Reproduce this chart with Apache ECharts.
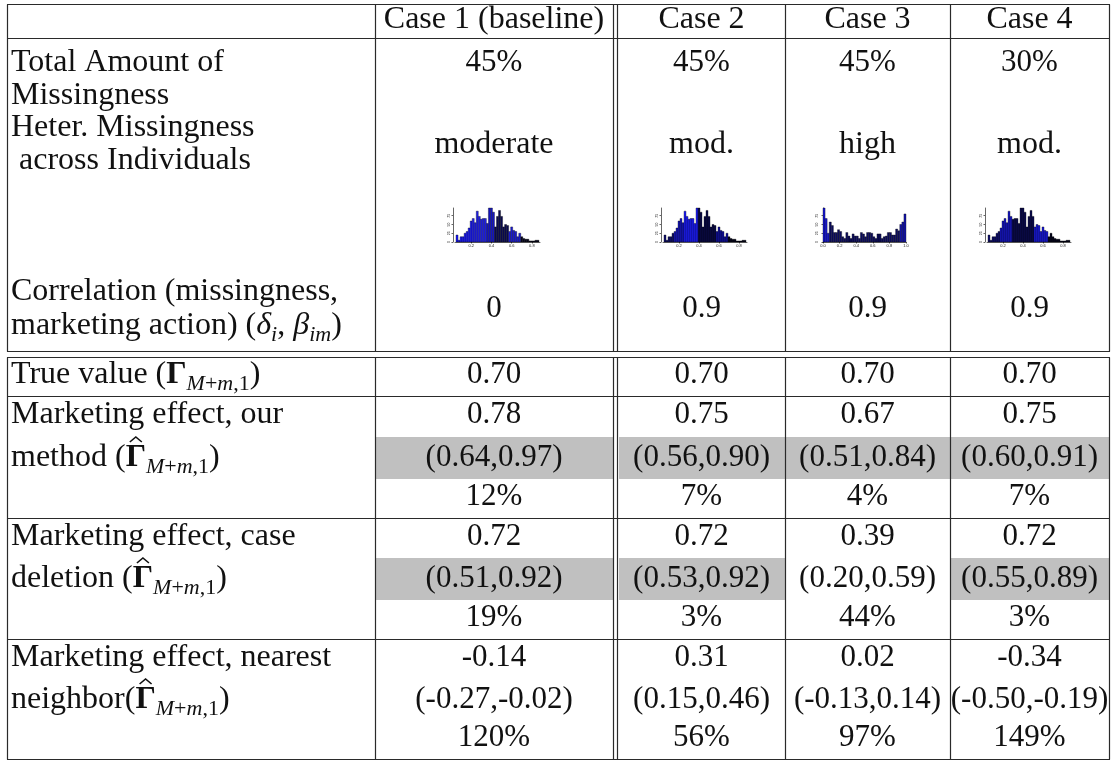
<!DOCTYPE html>
<html>
<head>
<meta charset="utf-8">
<script src="https://cdn.jsdelivr.net/npm/echarts@6/dist/echarts.min.js"></script>
<style>
  html, body { margin: 0; padding: 0; background: #ffffff; }
  #main { width: 1117px; height: 761px; }
</style>
</head>
<body>
<div id="main"></div>
<script>
// ---------- table content ----------
const caseNames = ['Case 1 (baseline)', 'Case 2', 'Case 3', 'Case 4'];
const totalMissing = ['45%', '45%', '45%', '30%'];
const heterMissing = ['moderate', 'mod.', 'high', 'mod.'];
const corrMissAction = ['0', '0.9', '0.9', '0.9'];
const trueGamma = [0.70, 0.70, 0.70, 0.70];
const ourEstimate = [0.78, 0.75, 0.67, 0.75];
const ourInterval = [[0.64, 0.97], [0.56, 0.90], [0.51, 0.84], [0.60, 0.91]];
const ourError = ['12%', '7%', '4%', '7%'];
const delEstimate = [0.72, 0.72, 0.39, 0.72];
const delInterval = [[0.51, 0.92], [0.53, 0.92], [0.20, 0.59], [0.55, 0.89]];
const delError = ['19%', '3%', '44%', '3%'];
const nnEstimate = [-0.14, 0.31, 0.02, -0.34];
const nnInterval = [[-0.27, -0.02], [0.15, 0.46], [-0.13, 0.14], [-0.50, -0.19]];
const nnError = ['120%', '56%', '97%', '149%'];

// row labels (left column), one entry per printed line
const labelTotal = ['Total Amount of', 'Missingness'];
const labelHeter = ['Heter. Missingness', ' across Individuals'];
const labelCorr = ['Correlation (missingness,', 'marketing action) ({gi|\u03b4}{si|i}, {gi|\u03b2}{si|im})'];
const gammaSub = '{si|M}{sr|+}{si|m}{sr|,1}';
const labelTrue = ['True value ({gb|\u0393}' + gammaSub + ')'];
const labelOur = ['Marketing effect, our', 'method ({gb|\u0393}' + gammaSub + ')'];
const labelDel = ['Marketing effect, case', 'deletion ({gb|\u0393}' + gammaSub + ')'];
const labelNN = ['Marketing effect, nearest', 'neighbor({gb|\u0393}' + gammaSub + ')'];
// text in front of the hatted Gamma on the estimator rows
const hatPrefix = { our: 'method (', del: 'deletion (', nn: 'neighbor(' };

// share of missing observations per individual: histogram counts
const moderateBinStart = 0.05, moderateBinWidth = 0.02;
const moderateCounts = [20, 5, 15, 15, 25, 30, 40, 60, 67, 55, 88, 73, 65, 67, 67, 53, 97, 97, 85, 43,
                        73, 90, 73, 43, 50, 47, 30, 43, 33, 30, 15, 25, 15, 10, 8, 8, 3, 3, 3, 5, 5];
const highBinStart = 0.0, highBinWidth = 0.025;
const highCounts = [97, 67, 25, 57, 47, 27, 27, 35, 30, 15, 10, 27, 17, 10, 23, 17, 17, 10, 27, 23,
                    15, 27, 27, 25, 15, 10, 23, 23, 10, 15, 17, 27, 27, 20, 20, 37, 32, 50, 57, 80];
const histOfCase = ['moderate', 'moderate', 'high', 'moderate'];
const histXTicks = {
  moderate: [0.2, 0.4, 0.6, 0.8],
  high: [0.0, 0.2, 0.4, 0.6, 0.8, 1.0]
};
const histYTicks = [0, 25, 50, 75];

// ---------- layout & style ----------
const FONT = '"Liberation Serif", "Times New Roman", serif';
const FS = 32;      // words
const FSN = 31;     // numeric cells
const INK = '#111111';
const RULE = '#2a2a2a';
const SHADE = '#c0c0c0';

const colSpan = [[375, 613], [618, 785], [785, 950], [950, 1109]];
const labelX = 11;
const tableLeft = 7, tableRight = 1109;
const hRuleY = [4.5, 38.5, 351.5, 357.5, 396.5, 518.5, 639.5, 759.5];
const vRuleX = [7.5, 375.5, 613.5, 617.5, 785.5, 950.5, 1109.5];
const blockA = [4.5, 351.5], blockB = [357.5, 759.5];

const rowY = {
  header: 20,
  total: [63, 96],
  heter: [128, 161], heterValue: 145,
  corr: [292, 326], corrValue: 309,
  trueV: 375,
  our: [415, 458, 497],
  del: [537, 579, 618],
  nn: [658, 700, 738]
};
const shadeBand = { our: [437, 479], del: [558, 600] };

const histBox = [
  { left: 455, width: 85, min: 0.04, max: 0.88 },
  { left: 663, width: 84, min: 0.04, max: 0.88 },
  { left: 823, width: 83, min: 0.0, max: 1.0 },
  { left: 987, width: 84, min: 0.04, max: 0.88 }
];
const histTop = 208, histHeight = 34;

// fill colour of histogram bars, by bin position (blue to near black)
const histShade = [
  [[0.0, '#1818ff'], [0.22, '#1f1ff0'], [0.36, '#1414c8'], [0.44, '#0a0a50'], [0.58, '#1a1ad8'], [0.70, '#05051c']],
  [[0.0, '#101070'], [0.16, '#1818c0'], [0.26, '#1e1eff'], [0.40, '#0a0a48'], [0.58, '#1010a0'], [0.70, '#04041a']],
  [[0.0, '#1616d8'], [0.08, '#0c0c60'], [0.92, '#1414b0']],
  [[0.0, '#101070'], [0.18, '#1818c8'], [0.30, '#0c0c50'], [0.52, '#1a1ae0'], [0.66, '#05051c']]
];

// ---------- build table cells ----------
const richMath = {
  gi: { fontFamily: FONT, fontSize: FS, fontStyle: 'italic', fill: INK, lineHeight: 40 },
  gb: { fontFamily: FONT, fontSize: FS, fontWeight: 'bold', fill: INK, lineHeight: 40 },
  si: { fontFamily: FONT, fontSize: 22, fontStyle: 'italic', fill: INK, lineHeight: 22, verticalAlign: 'bottom' },
  sr: { fontFamily: FONT, fontSize: 22, fill: INK, lineHeight: 22, verticalAlign: 'bottom' }
};

const measureCtx = document.createElement('canvas').getContext('2d');
function textWidth(str, weight) {
  measureCtx.font = (weight || 'normal') + ' ' + FS + 'px ' + FONT;
  return measureCtx.measureText(str).width;
}

const fmt2 = v => v.toFixed(2);
const fmtCI = ci => '(' + fmt2(ci[0]) + ',' + fmt2(ci[1]) + ')';
const colCenter = c => (colSpan[c][0] + colSpan[c][1]) / 2;

const cells = [];
function addLabel(lines, ys, hatKey) {
  lines.forEach((t, k) => {
    const cell = { x: labelX, y: ys[k], text: t, align: 'left', size: FS };
    if (hatKey && k === lines.length - 1) {
      cell.hatX = labelX + textWidth(hatPrefix[hatKey]) + textWidth('\u0393', 'bold') / 2;
    }
    cells.push(cell);
  });
}
function addValue(c, y, text, shade, size) {
  cells.push({
    x: colCenter(c), y: y, text: text, align: 'center', size: size || FSN,
    shade: shade ? [colSpan[c][0] + 1, shade[0], colSpan[c][1], shade[1]] : null
  });
}

addLabel(labelTotal, rowY.total);
addLabel(labelHeter, rowY.heter);
addLabel(labelCorr, rowY.corr);
addLabel(labelTrue, [rowY.trueV]);
addLabel(labelOur, rowY.our, 'our');
addLabel(labelDel, rowY.del, 'del');
addLabel(labelNN, rowY.nn, 'nn');

for (let c = 0; c < 4; c++) {
  const covers = ci => ci[0] <= trueGamma[c] && trueGamma[c] <= ci[1];
  addValue(c, rowY.header, caseNames[c], null, FS);
  addValue(c, rowY.total[0], totalMissing[c]);
  addValue(c, rowY.heterValue, heterMissing[c], null, FS);
  addValue(c, rowY.corrValue, corrMissAction[c]);
  addValue(c, rowY.trueV, fmt2(trueGamma[c]));
  addValue(c, rowY.our[0], fmt2(ourEstimate[c]));
  addValue(c, rowY.our[1], fmtCI(ourInterval[c]), covers(ourInterval[c]) ? shadeBand.our : null);
  addValue(c, rowY.our[2], ourError[c]);
  addValue(c, rowY.del[0], fmt2(delEstimate[c]));
  addValue(c, rowY.del[1], fmtCI(delInterval[c]), covers(delInterval[c]) ? shadeBand.del : null);
  addValue(c, rowY.del[2], delError[c]);
  addValue(c, rowY.nn[0], fmt2(nnEstimate[c]));
  addValue(c, rowY.nn[1], fmtCI(nnInterval[c]));
  addValue(c, rowY.nn[2], nnError[c]);
}

// table rules as segments [x1, y1, x2, y2]
const rules = [];
hRuleY.forEach(y => rules.push([tableLeft, y, tableRight + 1, y]));
vRuleX.forEach(x => {
  rules.push([x, blockA[0], x, blockA[1]]);
  rules.push([x, blockB[0], x, blockB[1]]);
});

// ---------- chart ----------
const chart = echarts.init(document.getElementById('main'), null, { renderer: 'canvas' });

const grids = [{ left: 0, top: 0, right: 0, bottom: 0 }];
const xAxes = [{ gridIndex: 0, type: 'value', min: 0, max: 1117, show: false }];
const yAxes = [{ gridIndex: 0, type: 'value', min: 0, max: 761, inverse: true, show: false }];
const series = [];

// shaded interval cells (interval covers the true value)
series.push({
  type: 'custom', xAxisIndex: 0, yAxisIndex: 0, silent: true, clip: false,
  data: cells.map((c, i) => [i]).filter(d => cells[d[0]].shade),
  renderItem: (params, api) => {
    const s = cells[api.value(0)].shade;
    const p0 = api.coord([s[0], s[1]]), p1 = api.coord([s[2], s[3]]);
    return { type: 'rect', shape: { x: p0[0], y: p0[1], width: p1[0] - p0[0], height: p1[1] - p0[1] }, style: { fill: SHADE } };
  },
  z: 1
});

// rules
series.push({
  type: 'custom', xAxisIndex: 0, yAxisIndex: 0, silent: true, clip: false,
  data: rules,
  renderItem: (params, api) => {
    const a = api.coord([api.value(0), api.value(1)]), b = api.coord([api.value(2), api.value(3)]);
    return { type: 'line', shape: { x1: a[0], y1: a[1], x2: b[0], y2: b[1] }, style: { stroke: RULE, lineWidth: 1.2 } };
  },
  z: 2
});

// cell texts (with the hat accent over Gamma where needed)
series.push({
  type: 'custom', xAxisIndex: 0, yAxisIndex: 0, silent: true, clip: false,
  data: cells.map((c, i) => [i]),
  renderItem: (params, api) => {
    const cell = cells[api.value(0)];
    const p = api.coord([cell.x, cell.y]);
    const children = [{
      type: 'text',
      x: p[0], y: p[1],
      style: {
        text: cell.text,
        fontFamily: FONT, fontSize: cell.size, fill: INK, lineHeight: 40,
        align: cell.align, verticalAlign: 'middle',
        rich: richMath
      }
    }];
    if (cell.hatX !== undefined) {
      const h = api.coord([cell.hatX, cell.y]);
      children.push({
        type: 'polyline',
        shape: { points: [[h[0] - 6, h[1] - 16], [h[0], h[1] - 21], [h[0] + 6, h[1] - 16]] },
        style: { stroke: INK, lineWidth: 1.6, fill: null }
      });
    }
    return { type: 'group', children: children };
  },
  z: 3
});

// histograms
for (let c = 0; c < 4; c++) {
  const g = histBox[c];
  const kind = histOfCase[c];
  const counts = kind === 'high' ? highCounts : moderateCounts;
  const start = kind === 'high' ? highBinStart : moderateBinStart;
  const width = kind === 'high' ? highBinWidth : moderateBinWidth;
  const gi = grids.length;
  grids.push({ left: g.left, top: histTop, width: g.width, height: histHeight });
  xAxes.push({
    gridIndex: gi, type: 'value', min: g.min, max: g.max,
    axisLine: { show: true, onZero: false, lineStyle: { color: '#000', width: 0.6 } },
    axisTick: { show: true, length: 1.5, customValues: histXTicks[kind], lineStyle: { color: '#000', width: 0.6 } },
    axisLabel: { fontSize: 4, color: '#222', margin: 2, customValues: histXTicks[kind], formatter: v => v.toFixed(1) },
    splitLine: { show: false }
  });
  yAxes.push({
    gridIndex: gi, type: 'value', min: 0, max: 97, offset: 2,
    axisLine: { show: true, lineStyle: { color: '#000', width: 0.6 } },
    axisTick: { show: true, length: 1.5, customValues: histYTicks, lineStyle: { color: '#000', width: 0.6 } },
    axisLabel: { fontSize: 3.5, color: '#222', margin: 1.5, rotate: 90, customValues: histYTicks },
    splitLine: { show: false }
  });
  const shade = histShade[c];
  const colorAt = x => { let col = shade[0][1]; shade.forEach(s => { if (x >= s[0]) col = s[1]; }); return col; };
  series.push({
    type: 'custom', xAxisIndex: gi, yAxisIndex: gi, silent: true, clip: false,
    data: counts.map((n, k) => [start + k * width, start + (k + 1) * width, n]),
    renderItem: (params, api) => {
      const x0 = api.value(0), x1 = api.value(1);
      const p0 = api.coord([x0, api.value(2)]), p1 = api.coord([x1, 0]);
      return {
        type: 'rect',
        shape: { x: p0[0], y: p0[1], width: p1[0] - p0[0], height: p1[1] - p0[1] },
        style: { fill: colorAt((x0 + x1) / 2), stroke: '#000', lineWidth: 0.35 }
      };
    },
    z: 4
  });
}

chart.setOption({
  animation: false,
  backgroundColor: '#ffffff',
  grid: grids,
  xAxis: xAxes,
  yAxis: yAxes,
  series: series
});
</script>
</body>
</html>
